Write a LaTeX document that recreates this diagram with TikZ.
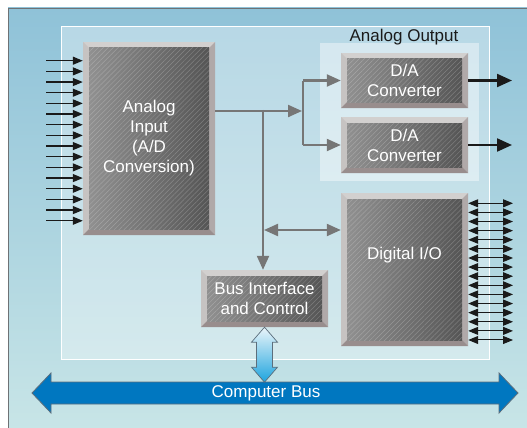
\documentclass[tikz,border=0pt]{standalone}
\usepackage{fontspec}
\setmainfont{Liberation Sans}
\usetikzlibrary{arrows.meta,patterns.meta,calc}
\definecolor{bgtop}{HTML}{8FC2D8}
\definecolor{bgbot}{HTML}{C8E5E7}
\definecolor{framegray}{HTML}{6E7275}
\definecolor{bevtop}{HTML}{D2D0CF}
\definecolor{bevleft}{HTML}{C6C3C2}
\definecolor{bevright}{HTML}{B0A9A9}
\definecolor{bevbot}{HTML}{988D8D}
\definecolor{facel}{HTML}{909090}
\definecolor{facer}{HTML}{555555}
\definecolor{lineg}{HTML}{767676}
\definecolor{ink}{HTML}{1A1A1A}
\definecolor{busblue}{HTML}{0077C0}
\definecolor{busedge}{HTML}{5C6E7C}
\definecolor{cyanlight}{HTML}{EAF5FA}
\definecolor{cyandark}{HTML}{1EA4DE}
\tikzset{
  boxfont/.style={font=\fontsize{17}{20}\selectfont},
  bevelbox/.style={rectangle, inner sep=0pt, fill=bevtop, text=white, align=center, boxfont,
    path picture={
      \coordinate (pA) at (path picture bounding box.north west);
      \coordinate (pB) at (path picture bounding box.south east);
      \fill[bevleft] (pA) -- ([shift={(6,6)}]pA) -- ([shift={(6,-6)}]pA |- pB) -- (pA |- pB) -- cycle;
      \fill[bevright] (pA -| pB) -- (pB) -- ([shift={(-6,-6)}]pB) -- ([shift={(-6,6)}]pA -| pB) -- cycle;
      \fill[bevbot] (pA |- pB) -- (pB) -- ([shift={(-6,-6)}]pB) -- ([shift={(6,-6)}]pA |- pB) -- cycle;
      \shade[left color=facel, right color=facer] ([shift={(6,6)}]pA) rectangle ([shift={(-6,-6)}]pB);
      \fill[pattern={Lines[angle=45,distance=3.5pt,line width=0.5pt]}, pattern color=white, opacity=0.22]
        ([shift={(6,6)}]pA) rectangle ([shift={(-6,-6)}]pB);
    }},
  gline/.style={draw=lineg, line width=2.2pt},
  garrow/.style={gline, -{Triangle[length=14pt,width=12pt]}},
  gdarrow/.style={gline, {Triangle[length=14pt,width=12pt]}-{Triangle[length=14pt,width=12pt]}},
  barrow/.style={draw=ink, line width=2.2pt, -{Triangle[length=15pt,width=13pt]}},
  inarrow/.style={draw=ink, line width=1.2pt, -{Triangle[length=10pt,width=8pt]}},
  dioarrow/.style={draw=ink, line width=1pt, {Triangle[length=10pt,width=8pt]}-{Triangle[length=10pt,width=8pt]}},
}
\begin{document}
\begin{tikzpicture}[x=1pt,y=-1pt]
\useasboundingbox (0,0) rectangle (527,428);
\fill[white] (0,0) rectangle (527,428);
% outer frame
\shade[top color=bgtop, bottom color=bgbot] (8,8) rectangle (530,431);
\draw[framegray, line width=0.9pt] (530,8) -- (8,8) -- (8,431);
% inner panel
\fill[white, opacity=0.35] (61,27) rectangle (489,359);
\draw[white, line width=1pt] (61,27) rectangle (489,359);
% analog output panel
\fill[white, opacity=0.42] (320,43) rectangle (479,181);
\node[text=ink, font=\fontsize{17}{20}\selectfont] (aolabel) at (404,37) {Analog Output};

% blocks
\node[bevelbox, minimum width=132pt, minimum height=193pt] (ai) at (149,138.5) {Analog\\Input\\(A/D\\Conversion)};
\node[bevelbox, minimum width=127pt, minimum height=55pt] (da1) at (404.5,80.5) {D/A\\Converter};
\node[bevelbox, minimum width=127pt, minimum height=56pt] (da2) at (404.5,145) {D/A\\Converter};
\node[bevelbox, minimum width=127pt, minimum height=153pt] (dio) at (404.5,269.5) {};
\node[text=white, boxfont] (diotext) at (404.5,255) {Digital I/O};
\node[bevelbox, minimum width=127pt, minimum height=57pt] (bi) at (264.5,298.5) {Bus Interface\\and Control};

% grey connectors
\coordinate (aiout) at (215,111);
\coordinate (j1) at (263,111);
\coordinate (j2) at (303,111);
\draw[garrow] (aiout) -- ([xshift=-1pt]j2);
\draw[gline] (j2 |- da1.west) -- (j2 |- da2.west);
\draw[garrow] (j2 |- da1.west) -- (da1.west);
\draw[garrow] (j2 |- da2.west) -- (da2.west);
\draw[garrow] ([yshift=1.1pt]j1) -- (j1 |- bi.north);
\coordinate (busy) at (264,230);
\draw[gdarrow] (busy) -- (busy -| dio.west);

% analog outputs
\coordinate (out1) at (512,80.5);
\coordinate (out2) at (512,145);
\draw[barrow] (da1.east) -- (out1);
\draw[barrow] (da2.east) -- (out2);

% analog inputs
\foreach \i in {0,...,15}{
  \pgfmathsetmacro\yy{60.7+\i*10.67}
  \coordinate (in\i) at (46,\yy);
  \draw[inarrow] (in\i) -- (in\i -| ai.west);
}
% digital lines
\foreach \i in {0,...,15}{
  \pgfmathsetmacro\yy{203.3+\i*9.113}
  \coordinate (dl\i) at (513,\yy);
  \draw[dioarrow] (dl\i -| dio.east) -- (dl\i);
}

% computer bus
\fill[busblue, draw=busedge, line width=0.8pt] (32,393) -- (51,373) -- (51,382) -- (499,382) -- (499,373)
  -- (518,393) -- (499,413) -- (499,404) -- (51,404) -- (51,413) -- cycle;
\node[text=white, boxfont] (cb) at (266,393) {Computer Bus};

% bus interface link
\begin{scope}[shift={(bi.south)}]
\shade[top color=cyanlight, bottom color=cyandark, draw=busedge, line width=0.7pt]
  (0,0) -- (13,15) -- (8,15) -- (8,40) -- (13,40) -- (0,55) -- (-13,40) -- (-8,40) -- (-8,15) -- (-13,15) -- cycle;
\end{scope}
\end{tikzpicture}
\end{document}
